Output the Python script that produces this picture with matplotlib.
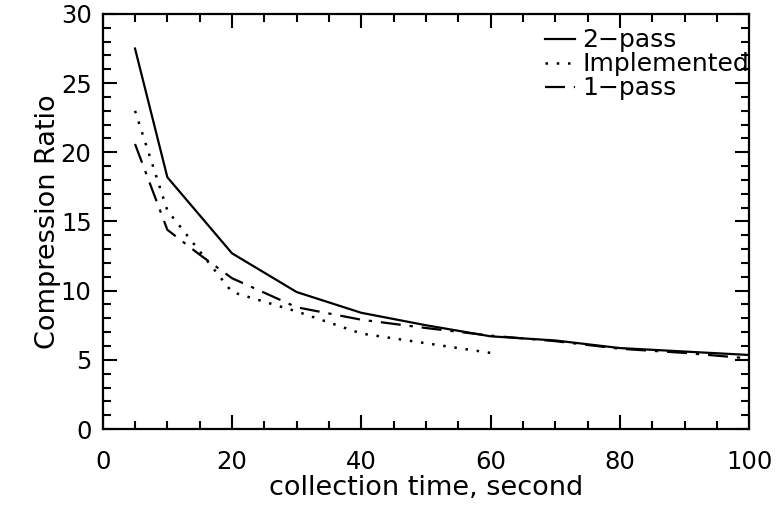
import matplotlib.pyplot as plt
from matplotlib.ticker import MultipleLocator

plt.rcParams['font.family'] = ['DejaVu Sans']

# values
t_two = [5, 10, 20, 30, 40, 50, 60, 70, 80, 90, 100]
r_two = [27.5, 18.2, 12.7, 9.9, 8.4, 7.5, 6.7, 6.4, 5.85, 5.6, 5.35]

t_impl = [5, 10, 20, 30, 40, 50, 60]
r_impl = [23.0, 15.8, 9.9, 8.5, 6.9, 6.2, 5.5]

t_one = [5, 10, 15, 20, 30, 40, 50, 60, 70, 80, 90, 100]
r_one = [20.6, 14.4, 12.6, 10.9, 8.8, 7.9, 7.3, 6.75, 6.35, 5.8, 5.5, 5.1]

fig = plt.figure(figsize=(7.78, 5.08), dpi=100)
ax = fig.add_axes([0.132, 0.1555, 0.831, 0.817])

ax.plot(t_two, r_two, color='black', lw=1.6, label='2\u2212pass')
ax.plot(t_impl, r_impl, color='black', lw=1.8, linestyle=(0, (1, 3.5)), label='Implemented')
ax.plot(t_one, r_one, color='black', lw=1.6, linestyle=(0, (9, 4, 1.5, 4)), label='1\u2212pass')

ax.set_xlim(0, 100)
ax.set_ylim(0, 30)
ax.xaxis.set_major_locator(MultipleLocator(20))
ax.xaxis.set_minor_locator(MultipleLocator(5))
ax.yaxis.set_major_locator(MultipleLocator(5))
ax.yaxis.set_minor_locator(MultipleLocator(1))
ax.tick_params(which='both', direction='in', top=True, right=True, width=1.5,
               labelsize=17.5)
ax.tick_params(axis='x', pad=15)
ax.tick_params(axis='y', pad=8)
ax.tick_params(which='major', length=10)
ax.tick_params(which='minor', length=6)
for s in ax.spines.values():
    s.set_linewidth(1.6)

ax.set_xlabel('collection time, second', fontsize=19.5, labelpad=1)
ax.set_ylabel('Compression Ratio', fontsize=19.5, labelpad=0)

ax.legend(loc='upper right', bbox_to_anchor=(1.0, 0.965), frameon=False,
          fontsize=18, handlelength=1.2, handletextpad=0.3, labelspacing=0.0,
          borderaxespad=0.0, borderpad=0.0)

fig.savefig('out.png', dpi=100)
